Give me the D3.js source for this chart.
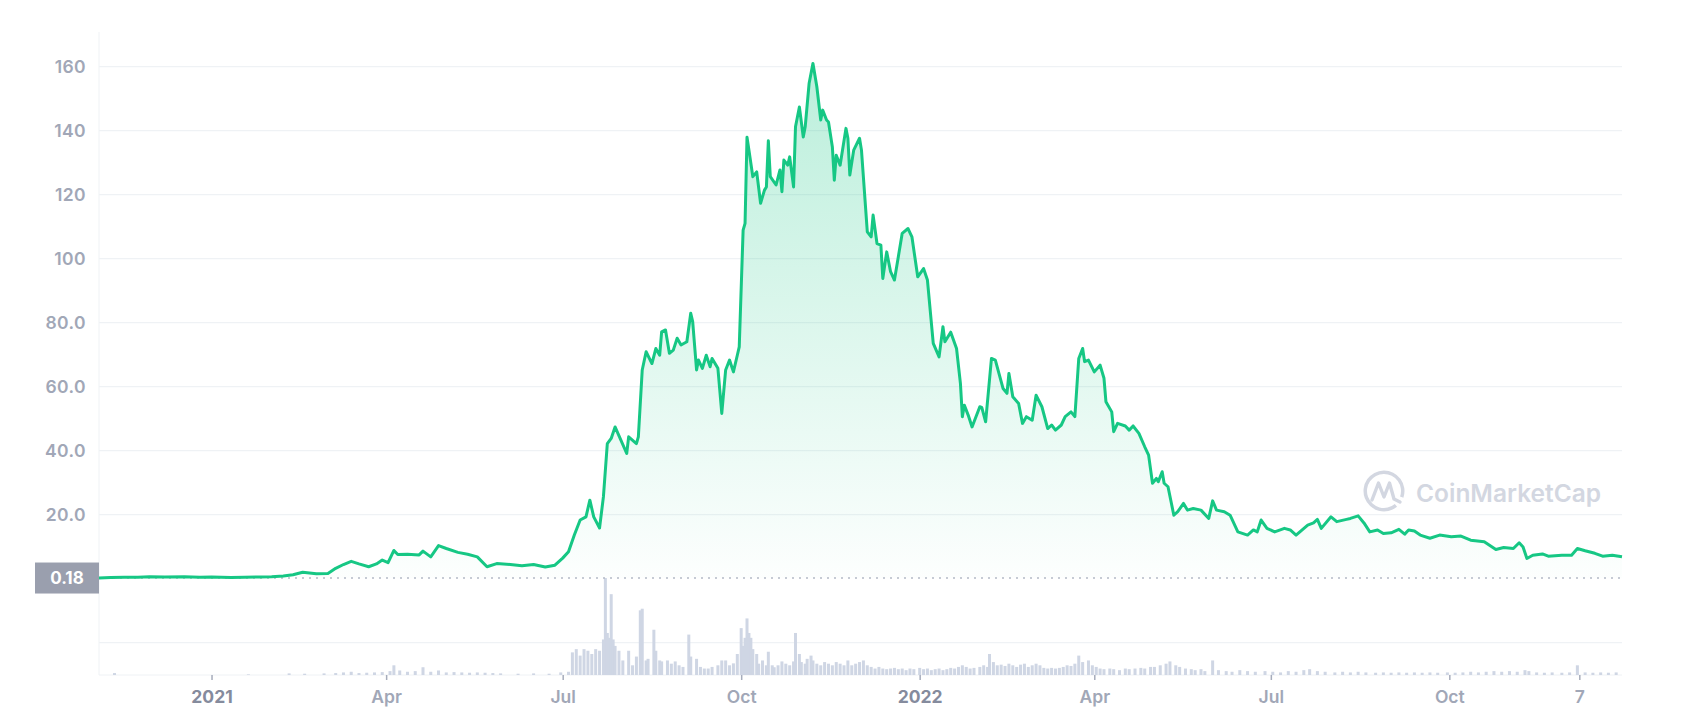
<!DOCTYPE html>
<html>
<head>
<meta charset="utf-8">
<title>AXS price chart</title>
<script src="https://d3js.org/d3.v7.min.js"></script>
<style>
  body { margin: 0; background: #fff; }
  svg { display: block; font-family: Inter, "Noto Sans", sans-serif; }
</style>
</head>
<body>
<div id="chart"></div>
<script>
// price in USD
const price = [
  ["2020-11-04",0.18],["2020-11-10",0.35],["2020-11-17",0.45],["2020-11-24",0.40],["2020-11-30",0.55],
  ["2020-12-08",0.5],["2020-12-18",0.6],["2020-12-26",0.45],["2021-01-01",0.5],["2021-01-11",0.35],
  ["2021-01-18",0.45],["2021-01-26",0.5],["2021-02-01",0.55],["2021-02-07",0.8],["2021-02-12",1.2],
  ["2021-02-17",2.0],["2021-02-24",1.5],["2021-03-02",1.6],["2021-03-06",3.2],["2021-03-10",4.4],
  ["2021-03-14",5.4],["2021-03-18",4.6],["2021-03-23",3.7],["2021-03-27",4.6],["2021-03-30",5.8],
  ["2021-04-02",5.0],["2021-04-05",8.8],["2021-04-07",7.5],["2021-04-12",7.6],["2021-04-18",7.4],
  ["2021-04-20",8.6],["2021-04-24",6.8],["2021-04-28",10.3],["2021-05-02",9.4],["2021-05-08",8.2],
  ["2021-05-13",7.6],["2021-05-18",6.8],["2021-05-23",3.7],["2021-05-28",4.7],["2021-06-04",4.4],
  ["2021-06-10",4.0],["2021-06-16",4.4],["2021-06-22",3.6],["2021-06-27",4.2],["2021-07-01",6.4],
  ["2021-07-04",8.4],["2021-07-07",13.6],["2021-07-10",18.3],["2021-07-13",19.3],["2021-07-15",24.5],
  ["2021-07-17",19.3],["2021-07-20",15.8],["2021-07-22",25.6],["2021-07-24",42.2],["2021-07-26",43.8],
  ["2021-07-28",47.4],["2021-07-31",43.3],["2021-08-03",39.1],["2021-08-04",44.3],["2021-08-08",42.2],
  ["2021-08-09",44.3],["2021-08-11",65.2],["2021-08-13",70.9],["2021-08-16",67.2],["2021-08-18",71.9],
  ["2021-08-20",69.8],["2021-08-21",77.1],["2021-08-23",77.7],["2021-08-25",70.4],["2021-08-27",71.4],
  ["2021-08-29",75.1],["2021-08-31",73.0],["2021-09-03",74.0],["2021-09-05",82.9],["2021-09-06",80.3],
  ["2021-09-08",65.2],["2021-09-09",68.3],["2021-09-11",65.7],["2021-09-13",69.8],["2021-09-15",66.2],
  ["2021-09-16",68.8],["2021-09-19",65.7],["2021-09-21",51.6],["2021-09-23",65.2],["2021-09-25",68.3],
  ["2021-09-27",64.6],["2021-09-29",69.8],["2021-09-30",72.4],["2021-10-02",108.9],["2021-10-03",111.0],
  ["2021-10-04",137.9],["2021-10-05",133.9],["2021-10-07",125.6],["2021-10-09",127.1],["2021-10-11",117.3],
  ["2021-10-13",121.4],["2021-10-14",122.4],["2021-10-15",136.8],["2021-10-16",125.6],["2021-10-19",123.0],
  ["2021-10-21",127.7],["2021-10-22",120.9],["2021-10-23",130.8],["2021-10-25",129.2],["2021-10-26",131.8],
  ["2021-10-28",122.4],["2021-10-29",141.2],["2021-10-31",147.4],["2021-11-02",138.0],["2021-11-03",141.2],
  ["2021-11-05",154.7],["2021-11-07",161.0],["2021-11-09",153.7],["2021-11-11",143.3],["2021-11-12",146.4],
  ["2021-11-14",143.3],["2021-11-15",142.7],["2021-11-17",134.9],["2021-11-18",124.5],["2021-11-19",132.3],
  ["2021-11-21",129.2],["2021-11-24",140.7],["2021-11-25",137.6],["2021-11-26",126.1],["2021-11-28",133.9],
  ["2021-12-01",137.6],["2021-12-02",133.9],["2021-12-05",108.4],["2021-12-07",106.8],["2021-12-08",113.6],
  ["2021-12-10",104.7],["2021-12-12",104.2],["2021-12-13",93.8],["2021-12-15",102.1],["2021-12-17",95.9],
  ["2021-12-19",93.3],["2021-12-21",100.6],["2021-12-23",107.9],["2021-12-26",109.4],["2021-12-28",106.8],
  ["2021-12-31",94.3],["2022-01-03",96.9],["2022-01-05",93.3],["2022-01-08",73.5],["2022-01-11",69.3],
  ["2022-01-13",78.7],["2022-01-14",74.0],["2022-01-17",77.0],["2022-01-20",71.9],["2022-01-22",61.0],
  ["2022-01-23",50.6],["2022-01-24",54.2],["2022-01-26",51.1],["2022-01-28",47.4],["2022-02-01",53.7],
  ["2022-02-02",53.5],["2022-02-04",49.0],["2022-02-07",68.8],["2022-02-09",68.3],["2022-02-13",59.4],
  ["2022-02-15",57.9],["2022-02-16",64.1],["2022-02-18",56.8],["2022-02-21",54.7],["2022-02-23",48.5],
  ["2022-02-25",50.6],["2022-02-28",49.5],["2022-03-02",57.3],["2022-03-05",53.7],["2022-03-08",46.9],
  ["2022-03-10",48.0],["2022-03-12",46.4],["2022-03-15",48.0],["2022-03-17",50.6],["2022-03-20",52.1],
  ["2022-03-22",50.6],["2022-03-24",68.8],["2022-03-26",71.9],["2022-03-27",67.8],["2022-03-29",68.3],
  ["2022-04-01",64.6],["2022-04-04",66.7],["2022-04-06",62.6],["2022-04-07",55.3],["2022-04-10",52.1],
  ["2022-04-11",45.9],["2022-04-13",48.5],["2022-04-17",47.7],["2022-04-19",46.4],["2022-04-21",47.7],
  ["2022-04-24",45.4],["2022-04-27",41.2],["2022-04-29",38.6],["2022-05-01",29.8],["2022-05-03",31.3],
  ["2022-05-04",30.3],["2022-05-06",33.4],["2022-05-07",29.8],["2022-05-09",28.7],["2022-05-12",19.8],
  ["2022-05-14",20.9],["2022-05-17",23.5],["2022-05-19",21.4],["2022-05-22",21.9],["2022-05-26",21.4],
  ["2022-05-30",18.8],["2022-06-01",24.3],["2022-06-03",21.4],["2022-06-07",20.9],["2022-06-10",19.8],
  ["2022-06-14",14.6],["2022-06-19",13.6],["2022-06-22",15.2],["2022-06-24",14.6],["2022-06-26",18.3],
  ["2022-06-29",15.7],["2022-07-03",14.6],["2022-07-08",15.7],["2022-07-11",15.2],["2022-07-14",13.6],
  ["2022-07-20",16.7],["2022-07-23",17.4],["2022-07-25",18.5],["2022-07-27",15.7],["2022-08-01",19.3],
  ["2022-08-04",17.8],["2022-08-09",18.5],["2022-08-11",18.8],["2022-08-15",19.6],["2022-08-18",17.4],
  ["2022-08-21",14.6],["2022-08-25",15.2],["2022-08-28",14.1],["2022-09-01",14.3],["2022-09-05",15.4],
  ["2022-09-08",13.9],["2022-09-10",15.2],["2022-09-13",14.9],["2022-09-16",13.6],["2022-09-21",12.6],
  ["2022-09-26",13.6],["2022-10-02",13.1],["2022-10-07",13.3],["2022-10-12",12.0],["2022-10-19",11.5],
  ["2022-10-25",9.1],["2022-10-29",9.7],["2022-11-03",9.4],["2022-11-06",11.2],["2022-11-08",9.9],
  ["2022-11-10",6.3],["2022-11-13",7.3],["2022-11-18",7.7],["2022-11-21",7.0],["2022-11-28",7.3],
  ["2022-12-03",7.3],["2022-12-06",9.4],["2022-12-10",8.7],["2022-12-15",7.9],["2022-12-19",7.0],
  ["2022-12-24",7.3],["2022-12-29",6.8]
];

// traded volume, billions USD (approximate)
const volume = [
  ["2020-11-12",0.06],["2021-01-20",0.02],["2021-02-10",0.05],["2021-02-18",0.04],["2021-02-28",0.05],
  ["2021-03-06",0.06],["2021-03-10",0.08],["2021-03-14",0.10],["2021-03-18",0.06],["2021-03-22",0.07],
  ["2021-03-26",0.08],["2021-03-30",0.09],["2021-04-03",0.12],["2021-04-05",0.30],["2021-04-08",0.14],
  ["2021-04-12",0.10],["2021-04-16",0.12],["2021-04-20",0.24],["2021-04-24",0.10],["2021-04-28",0.14],
  ["2021-05-02",0.08],["2021-05-06",0.09],["2021-05-10",0.08],["2021-05-14",0.07],["2021-05-18",0.08],
  ["2021-05-22",0.07],["2021-05-26",0.06],["2021-05-30",0.05],["2021-06-08",0.04],["2021-06-16",0.05],
  ["2021-06-24",0.04],["2021-06-30",0.08],["2021-07-04",0.10],["2021-07-06",0.70],["2021-07-08",0.80],
  ["2021-07-10",0.60],["2021-07-12",0.80],["2021-07-14",0.75],["2021-07-16",0.65],["2021-07-18",0.80],
  ["2021-07-20",0.75],["2021-07-22",1.10],["2021-07-23",3.00],["2021-07-24",1.30],["2021-07-25",1.15],
  ["2021-07-26",2.50],["2021-07-27",1.10],["2021-07-28",0.90],["2021-07-30",0.75],["2021-08-01",0.45],
  ["2021-08-04",0.75],["2021-08-06",0.30],["2021-08-08",0.57],["2021-08-10",2.00],["2021-08-11",2.05],
  ["2021-08-13",0.45],["2021-08-14",0.50],["2021-08-17",1.40],["2021-08-18",0.75],["2021-08-20",0.45],
  ["2021-08-21",0.42],["2021-08-24",0.45],["2021-08-26",0.35],["2021-08-28",0.42],["2021-08-30",0.30],
  ["2021-09-01",0.25],["2021-09-04",1.25],["2021-09-05",0.57],["2021-09-08",0.50],["2021-09-10",0.25],
  ["2021-09-12",0.20],["2021-09-14",0.20],["2021-09-16",0.25],["2021-09-19",0.30],["2021-09-21",0.45],
  ["2021-09-23",0.45],["2021-09-25",0.30],["2021-09-27",0.36],["2021-09-29",0.65],["2021-10-01",1.45],
  ["2021-10-02",0.90],["2021-10-03",1.15],["2021-10-04",1.75],["2021-10-05",1.30],["2021-10-06",1.15],
  ["2021-10-07",0.80],["2021-10-09",0.65],["2021-10-10",0.35],["2021-10-12",0.45],["2021-10-14",0.30],
  ["2021-10-15",0.72],["2021-10-17",0.30],["2021-10-18",0.24],["2021-10-20",0.30],["2021-10-22",0.42],
  ["2021-10-24",0.35],["2021-10-26",0.30],["2021-10-28",0.42],["2021-10-29",1.30],["2021-10-31",0.65],
  ["2021-11-01",0.40],["2021-11-03",0.35],["2021-11-04",0.50],["2021-11-06",0.60],["2021-11-07",0.45],
  ["2021-11-09",0.35],["2021-11-11",0.30],["2021-11-13",0.40],["2021-11-15",0.35],["2021-11-17",0.30],
  ["2021-11-19",0.40],["2021-11-21",0.35],["2021-11-23",0.30],["2021-11-25",0.45],["2021-11-27",0.30],
  ["2021-11-29",0.35],["2021-12-01",0.40],["2021-12-03",0.45],["2021-12-05",0.30],["2021-12-07",0.25],
  ["2021-12-09",0.20],["2021-12-11",0.25],["2021-12-13",0.20],["2021-12-15",0.18],["2021-12-17",0.20],
  ["2021-12-19",0.22],["2021-12-21",0.18],["2021-12-23",0.20],["2021-12-25",0.15],["2021-12-27",0.20],
  ["2021-12-29",0.18],["2022-01-01",0.22],["2022-01-03",0.18],["2022-01-05",0.20],["2022-01-07",0.15],
  ["2022-01-09",0.18],["2022-01-11",0.20],["2022-01-13",0.15],["2022-01-15",0.18],["2022-01-17",0.22],
  ["2022-01-19",0.20],["2022-01-21",0.25],["2022-01-23",0.30],["2022-01-25",0.25],["2022-01-27",0.20],
  ["2022-01-29",0.22],["2022-02-01",0.25],["2022-02-03",0.30],["2022-02-05",0.25],["2022-02-06",0.65],
  ["2022-02-08",0.40],["2022-02-10",0.30],["2022-02-12",0.32],["2022-02-14",0.28],["2022-02-16",0.35],
  ["2022-02-18",0.30],["2022-02-20",0.25],["2022-02-22",0.32],["2022-02-24",0.35],["2022-02-26",0.25],
  ["2022-02-28",0.30],["2022-03-02",0.35],["2022-03-04",0.30],["2022-03-06",0.22],["2022-03-08",0.20],
  ["2022-03-10",0.22],["2022-03-12",0.20],["2022-03-14",0.22],["2022-03-16",0.25],["2022-03-18",0.30],
  ["2022-03-20",0.28],["2022-03-22",0.35],["2022-03-24",0.60],["2022-03-26",0.40],["2022-03-29",0.45],
  ["2022-03-31",0.30],["2022-04-02",0.25],["2022-04-04",0.20],["2022-04-06",0.18],["2022-04-09",0.20],
  ["2022-04-11",0.18],["2022-04-14",0.15],["2022-04-17",0.20],["2022-04-19",0.18],["2022-04-22",0.20],
  ["2022-04-25",0.22],["2022-04-27",0.20],["2022-04-30",0.25],["2022-05-02",0.25],["2022-05-05",0.30],
  ["2022-05-08",0.35],["2022-05-10",0.42],["2022-05-13",0.30],["2022-05-15",0.25],["2022-05-18",0.20],
  ["2022-05-21",0.18],["2022-05-23",0.15],["2022-05-26",0.18],["2022-05-28",0.12],["2022-06-01",0.45],
  ["2022-06-04",0.15],["2022-06-08",0.12],["2022-06-11",0.10],["2022-06-15",0.15],["2022-06-19",0.12],
  ["2022-06-23",0.10],["2022-06-28",0.12],["2022-07-02",0.10],["2022-07-06",0.08],["2022-07-10",0.12],
  ["2022-07-14",0.10],["2022-07-18",0.15],["2022-07-21",0.18],["2022-07-25",0.12],["2022-07-29",0.10],
  ["2022-08-03",0.08],["2022-08-07",0.10],["2022-08-11",0.08],["2022-08-15",0.10],["2022-08-19",0.08],
  ["2022-08-24",0.07],["2022-08-28",0.08],["2022-09-01",0.07],["2022-09-05",0.08],["2022-09-09",0.07],
  ["2022-09-13",0.08],["2022-09-17",0.07],["2022-09-21",0.08],["2022-09-25",0.07],["2022-09-30",0.08],
  ["2022-10-04",0.07],["2022-10-08",0.08],["2022-10-12",0.10],["2022-10-16",0.08],["2022-10-20",0.10],
  ["2022-10-24",0.12],["2022-10-28",0.10],["2022-11-01",0.12],["2022-11-05",0.10],["2022-11-09",0.15],
  ["2022-11-11",0.12],["2022-11-15",0.08],["2022-11-19",0.07],["2022-11-23",0.08],["2022-11-28",0.07],
  ["2022-12-02",0.08],["2022-12-06",0.30],["2022-12-10",0.08],["2022-12-14",0.07],["2022-12-18",0.08],
  ["2022-12-22",0.07],["2022-12-26",0.08]
];

const yTicks = [20, 40, 60, 80, 100, 120, 140, 160];
const yTickLabels = ["20.0", "40.0", "60.0", "80.0", "100", "120", "140", "160"];
const xTickDates = ["2021-01-01","2021-04-01","2021-07-01","2021-10-01","2022-01-01","2022-04-01","2022-07-01","2022-10-01","2022-12-07"];
const xTickLabels = ["2021", "Apr", "Jul", "Oct", "2022", "Apr", "Jul", "Oct", "7"];
const minPrice = 0.18;

const width = 1690, height = 723;
const plotLeft = 99, plotRight = 1622, plotTop = 32, plotBottom = 675;
const green = "#16c784";

const parse = d3.utcParse("%Y-%m-%d");
const priceData = price.map(d => ({date: parse(d[0]), value: d[1]}));
const volData = volume.map(d => ({date: parse(d[0]), value: d[1]}));

const x = d3.scaleUtc()
  .domain([parse("2020-11-04"), parse("2022-12-29")])
  .range([plotLeft, plotRight]);
const y = d3.scaleLinear().domain([0, 160]).range([578.6, 66.6]);
const yVol = d3.scaleLinear().domain([0, 3]).range([plotBottom, 578]);

const svg = d3.select("#chart").append("svg")
  .attr("width", width)
  .attr("height", height);

svg.append("rect").attr("width", width).attr("height", height).attr("fill", "#fff");

// gradient for the area
const defs = svg.append("defs");
const grad = defs.append("linearGradient")
  .attr("id", "areaFill")
  .attr("gradientUnits", "userSpaceOnUse")
  .attr("x1", 0).attr("x2", 0)
  .attr("y1", y(160)).attr("y2", y(minPrice));
grad.append("stop").attr("offset", 0).attr("stop-color", green).attr("stop-opacity", 0.29);
grad.append("stop").attr("offset", 1).attr("stop-color", green).attr("stop-opacity", 0.01);

// grid
svg.append("g").selectAll("line")
  .data(yTicks)
  .join("line")
  .attr("x1", plotLeft).attr("x2", plotRight)
  .attr("y1", d => y(d)).attr("y2", d => y(d))
  .attr("stroke", "#eff2f5").attr("stroke-width", 1.2);

svg.append("line")
  .attr("x1", plotLeft).attr("x2", plotRight)
  .attr("y1", yVol(1)).attr("y2", yVol(1))
  .attr("stroke", "#eff2f5").attr("stroke-width", 1.2);
svg.append("line")
  .attr("x1", plotLeft).attr("x2", plotRight)
  .attr("y1", plotBottom).attr("y2", plotBottom)
  .attr("stroke", "#eff2f5");
svg.append("line")
  .attr("x1", plotLeft).attr("x2", plotLeft)
  .attr("y1", plotTop).attr("y2", plotBottom)
  .attr("stroke", "#eff2f5");

// watermark
const wm = svg.append("g").attr("transform", "translate(1384,491)");
wm.append("path")
  .attr("d", d3.arc()({innerRadius: 17, outerRadius: 20.5, startAngle: 2.45, endAngle: 2 * Math.PI + 1.9}))
  .attr("fill", "#d3d7e1");
wm.append("path")
  .attr("d", "M-12,9 L-5.5,-8 L0,6 L5.5,-8 L10,8 L16,11")
  .attr("fill", "none")
  .attr("stroke", "#d3d7e1")
  .attr("stroke-width", 3.4)
  .attr("stroke-linejoin", "round")
  .attr("stroke-linecap", "round");
svg.append("text")
  .attr("x", 1416).attr("y", 502)
  .attr("font-size", 24.5).attr("font-weight", 600)
  .attr("fill", "#d3d7e1")
  .text("CoinMarketCap");

// volume bars
svg.append("g").selectAll("rect")
  .data(volData)
  .join("rect")
  .attr("x", d => x(d.date) - 1.5)
  .attr("width", 3)
  .attr("y", d => yVol(d.value))
  .attr("height", d => plotBottom - yVol(d.value))
  .attr("fill", "#cfd6e4");

// price area + line
const area = d3.area()
  .x(d => x(d.date))
  .y0(y(minPrice))
  .y1(d => y(d.value));
svg.append("path")
  .datum(priceData)
  .attr("d", area)
  .attr("fill", "url(#areaFill)");

svg.append("line")
  .attr("x1", plotLeft).attr("x2", plotRight)
  .attr("y1", y(minPrice)).attr("y2", y(minPrice))
  .attr("stroke", "#b4bac6")
  .attr("stroke-width", 1.4)
  .attr("stroke-dasharray", "2,5");

const line = d3.line()
  .x(d => x(d.date))
  .y(d => y(d.value));
svg.append("path")
  .datum(priceData)
  .attr("d", line)
  .attr("fill", "none")
  .attr("stroke", green)
  .attr("stroke-width", 3)
  .attr("stroke-linejoin", "round");

// y axis labels
const yAxis = svg.append("g")
  .attr("transform", `translate(${plotLeft},0)`)
  .call(d3.axisLeft(y).tickValues(yTicks).tickFormat((d, i) => yTickLabels[i]).tickSize(0).tickPadding(13));
yAxis.select(".domain").remove();
yAxis.selectAll("text")
  .attr("font-family", "Inter, sans-serif")
  .attr("font-size", 17.5).attr("font-weight", 600)
  .attr("letter-spacing", 0.4)
  .attr("fill", "#a1a7b7");

// min price badge
svg.append("rect")
  .attr("x", 35).attr("y", y(minPrice) - 15.5)
  .attr("width", plotLeft - 35).attr("height", 31)
  .attr("fill", "#9a9fae");
svg.append("text")
  .attr("x", (35 + plotLeft) / 2).attr("y", y(minPrice))
  .attr("dy", "0.36em")
  .attr("text-anchor", "middle")
  .attr("font-size", 17).attr("font-weight", 700)
  .attr("fill", "#fff")
  .text(minPrice.toFixed(2));

// x axis
const xAxis = svg.append("g")
  .attr("transform", `translate(0,${plotBottom})`)
  .call(d3.axisBottom(x).tickValues(xTickDates.map(parse)).tickFormat((d, i) => xTickLabels[i]).tickSize(5).tickPadding(11));
xAxis.select(".domain").remove();
xAxis.selectAll("line").attr("stroke", "#a6acbb").attr("stroke-width", 1.5);
xAxis.selectAll("text")
  .attr("font-family", "Inter, sans-serif")
  .attr("font-size", 17.5)
  .attr("font-weight", (d, i) => /^\d{4}$/.test(xTickLabels[i]) ? 700 : 600)
  .attr("fill", (d, i) => /^\d{4}$/.test(xTickLabels[i]) ? "#858b9d" : "#a1a7b7");
</script>
</body>
</html>
